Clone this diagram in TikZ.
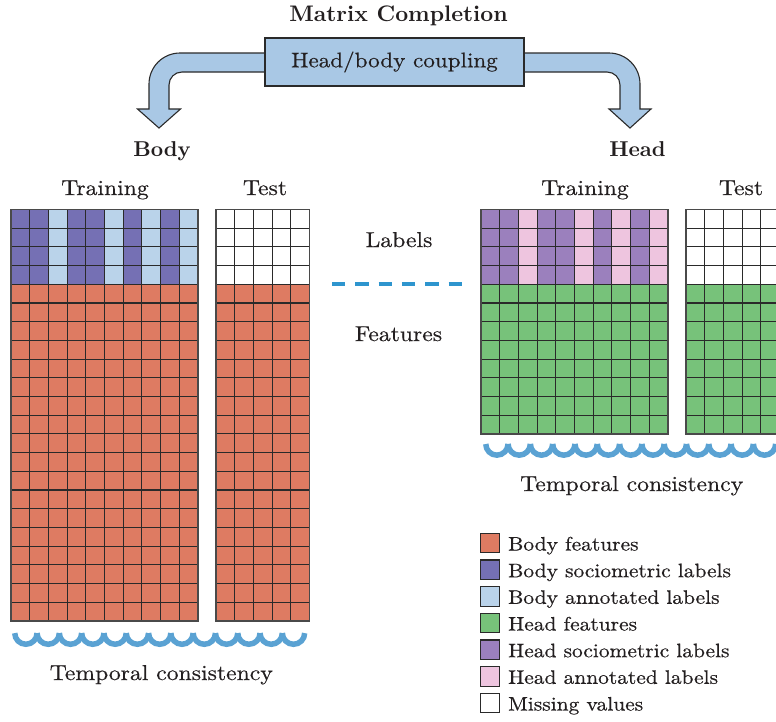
\documentclass[tikz,border=0pt]{standalone}
\usepackage{fontspec}
\setmainfont{lmroman10}[Extension=.otf, UprightFont=*-regular, BoldFont=*-bold, ItalicFont=*-italic, BoldItalicFont=*-bolditalic, FakeStretch=1.1, FakeBold=0.5]
\newfontfamily\titlefont{lmroman10}[Extension=.otf, UprightFont=*-bold]

\definecolor{inkc}{HTML}{231F20}
\definecolor{bfeat}{HTML}{DE7B62}
\definecolor{bsoc}{HTML}{7570B4}
\definecolor{bann}{HTML}{BAD3EA}
\definecolor{hfeat}{HTML}{77C27A}
\definecolor{hsoc}{HTML}{9B80BD}
\definecolor{hann}{HTML}{EEC5DF}
\definecolor{armfill}{HTML}{A9C8E5}
\definecolor{wavec}{HTML}{5AA2D3}
\definecolor{dashc}{HTML}{2E95CE}
\definecolor{gridc}{HTML}{2A2A2A}

% side of one matrix cell
\newcommand\cellw{18.7}

% grid lines and frame of a matrix: x0, y0, columns, rows
\newcommand\cellgrid[4]{%
  \foreach \k in {0,...,#3} \draw[gridline] ({#1+\k*\cellw},#2) -- ++(0,{#4*\cellw});
  \foreach \k in {0,...,#4} \draw[gridline] (#1,{#2+\k*\cellw}) -- ++({#3*\cellw},0);
  \draw[gridedge] (#1,#2) rectangle ++({#3*\cellw},{#4*\cellw});
}

% the four label rows of a training matrix: x0, y0, sociometric colour, annotated colour
\newcommand\labelcols[4]{%
  \foreach \i/\c in {0/#3,1/#3,2/#4,3/#3,4/#3,5/#4,6/#3,7/#4,8/#3,9/#4}
    \fill[\c] ({#1+\i*\cellw},#2) rectangle ++(\cellw,{4*\cellw});
}

% a row of scallops: first cusp x, cusp line y, count
\newcommand\scallops[3]{%
  \foreach \k in {1,...,#3}{
    \pgfmathsetmacro\ax{#1+(\k-1)*22.3}
    \draw[wave] (\ax,#2) .. controls (\ax,{#2+6.16}) and ({\ax+4.99},{#2+11.15}) .. ({\ax+11.15},{#2+11.15})
      .. controls ({\ax+17.31},{#2+11.15}) and ({\ax+22.3},{#2+6.16}) .. ({\ax+22.3},#2);
  }
}

\tikzset{
  gridline/.style={draw=gridc, line width=1.1pt},
  gridedge/.style={draw=gridc!85, line width=1.6pt},
  wave/.style={draw=wavec, line width=5.5pt, line cap=butt},
  armstyle/.style={fill=armfill, draw=gridc, line width=1.1pt, line join=miter},
  couplebox/.style={fill=armfill, draw=gridc, line width=1.2pt, inner sep=0pt,
    minimum width=259pt, minimum height=48pt, text=inkc,
    font=\fontsize{21}{24}\selectfont},
  lbl/.style={text=inkc, font=\fontsize{21.5}{24}\selectfont, inner sep=0pt, anchor=base},
  ttl/.style={text=inkc, font=\titlefont\fontsize{21.5}{24}\selectfont, inner sep=0pt, anchor=base},
  swatch/.style={draw=gridc, line width=1.1pt, minimum width=19.5pt, minimum height=19.5pt, inner sep=0pt},
  legtxt/.style={text=inkc, font=\fontsize{19.5}{22}\selectfont, inner sep=0pt, anchor=base west},
}

\begin{document}
\begin{tikzpicture}[x=1pt,y=-1pt]
\useasboundingbox (0,0) rectangle (776,721);
\clip (0,0) rectangle (776,721);

% title
\node[ttl, font=\titlefont\fontsize{22.5}{25}\selectfont] (title) at (398.5,21) {Matrix Completion};

% bent block arrows leaving the coupling box
\path[armstyle] (275,53) -- (180,53) .. controls (162.9,53) and (149,66.9) .. (149,84)
  -- (149,109) -- (137.5,109) -- (159,128) -- (180.5,109) -- (169,109) -- (169,85)
  .. controls (169,77.8) and (174.8,72) .. (182,72) -- (275,72);
\path[armstyle] (515,53) -- (609,53) .. controls (626.1,53) and (640,66.9) .. (640,84)
  -- (640,109) -- (651,109) -- (630,128) -- (609,109) -- (620,109) -- (620,85)
  .. controls (620,77.8) and (614.2,72) .. (607,72) -- (515,72);
\node[couplebox] (coupling) at (394.5,62) {Head/body coupling};

% group titles and column headers
\node[ttl] (bodylbl) at (162,156) {Body};
\node[ttl] (headlbl) at (637.5,156) {Head};
\node[lbl] (btrain) at (105,195) {Training};
\node[lbl] (btest) at (265,195) {Test};
\node[lbl] (htrain) at (585,195) {Training};
\node[lbl] (htest) at (741,195) {Test};

% body training matrix
\fill[bfeat] (11,{209.5+4*\cellw}) rectangle ++({10*\cellw},{18*\cellw});
\labelcols{11}{209.5}{bsoc}{bann}
\cellgrid{11}{209.5}{10}{22}

% body test matrix
\fill[white] (216,209.5) rectangle ++({5*\cellw},{4*\cellw});
\fill[bfeat] (216,{209.5+4*\cellw}) rectangle ++({5*\cellw},{18*\cellw});
\cellgrid{216}{209.5}{5}{22}

% head training matrix
\fill[hfeat] (481,{209.5+4*\cellw}) rectangle ++({10*\cellw},{8*\cellw});
\labelcols{481}{209.5}{hsoc}{hann}
\cellgrid{481}{209.5}{10}{12}

% head test matrix
\fill[white] (686,209.5) rectangle ++({5*\cellw},{4*\cellw});
\fill[hfeat] (686,{209.5+4*\cellw}) rectangle ++({5*\cellw},{8*\cellw});
\cellgrid{686}{209.5}{5}{12}

% labels / features divider
\node[lbl] (labels) at (399,247) {Labels};
\node[lbl] (features) at (398.5,341) {Features};
\coordinate (divl) at (332,284.3);
\coordinate (divr) at (465,284.3);
\draw[dashc, line width=4pt, dash pattern=on 13.3pt off 10pt] (divl) -- (divr);

% temporal consistency scallops
\scallops{14.75}{633.1}{13}
\node[lbl] (btc) at (161.3,680) {Temporal consistency};
\scallops{485.75}{444}{14}
\node[lbl] (htc) at (631.7,491) {Temporal consistency};

% legend
\node[swatch, fill=bfeat] (lg1) at (490,543) {};
\node[swatch, fill=bsoc]  (lg2) at (490,569.7) {};
\node[swatch, fill=bann]  (lg3) at (490,596.3) {};
\node[swatch, fill=hfeat] (lg4) at (490,623) {};
\node[swatch, fill=hsoc]  (lg5) at (490,649.7) {};
\node[swatch, fill=hann]  (lg6) at (490,676.3) {};
\node[swatch, fill=white] (lg7) at (490,703) {};
\node[legtxt] (lt1) at (508,550.5) {Body features};
\node[legtxt] (lt2) at (508,577.2) {Body sociometric labels};
\node[legtxt] (lt3) at (508,603.8) {Body annotated labels};
\node[legtxt] (lt4) at (508,630.5) {Head features};
\node[legtxt] (lt5) at (508,657.2) {Head sociometric labels};
\node[legtxt] (lt6) at (508,683.8) {Head annotated labels};
\node[legtxt] (lt7) at (508,710.5) {Missing values};
\end{tikzpicture}
\end{document}
